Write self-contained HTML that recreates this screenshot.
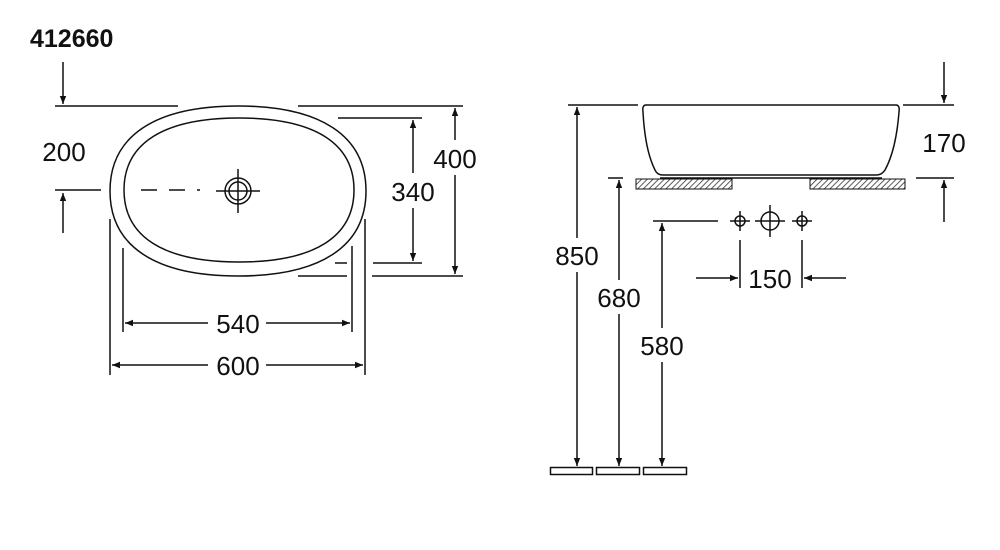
<!DOCTYPE html>
<html><head><meta charset="utf-8"><style>
html,body{margin:0;padding:0;background:#fff;width:1000px;height:550px;overflow:hidden}
svg{display:block}
text{font-family:"Liberation Sans",Arial,sans-serif;fill:#111}
</style></head><body>
<svg width="1000" height="550" viewBox="0 0 1000 550" xmlns="http://www.w3.org/2000/svg">
<defs>
<marker id="a" viewBox="0 0 10 10" refX="10" refY="5" markerWidth="15" markerHeight="8" markerUnits="userSpaceOnUse" orient="auto"><path d="M0,1 L10,5 L0,9 z" fill="#111"/></marker>
<pattern id="h" width="4" height="4" patternUnits="userSpaceOnUse" patternTransform="rotate(45)"><rect width="4" height="4" fill="#fff"/><line x1="0" y1="0" x2="0" y2="4" stroke="#333" stroke-width="1.6"/></pattern>
</defs>
<text x="30" y="47" font-size="25" font-weight="bold">412660</text>
<g stroke="#111" stroke-width="1.5" fill="none">
<line x1="55" y1="106" x2="178" y2="106"/><line x1="298" y1="106" x2="463" y2="106"/>
<path d="M110,191 C110,136 155,106 238,106 C321,106 366,136 366,191 C366,246 321,276 238,276 C155,276 110,246 110,191Z"/>
<path d="M124,190 C124,143 164,118 239,118 C314,118 354,143 354,190 C354,237 314,262 239,262 C164,262 124,237 124,190Z"/>
<circle cx="238" cy="191" r="13"/><circle cx="238" cy="191" r="9"/>
<line x1="216" y1="191" x2="260" y2="191"/><line x1="238" y1="169" x2="238" y2="213"/>
<line x1="55" y1="190" x2="101" y2="190"/>
<line x1="141" y1="190" x2="200" y2="190" stroke-dasharray="16,12"/>
<line x1="63" y1="62" x2="63" y2="104" marker-end="url(#a)"/>
<line x1="63" y1="233" x2="63" y2="193" marker-end="url(#a)"/>
<line x1="338" y1="118" x2="422" y2="118"/>
<line x1="373" y1="263" x2="422" y2="263"/><line x1="335" y1="263" x2="347" y2="263"/>
<line x1="413" y1="173" x2="413" y2="120" marker-end="url(#a)"/>
<line x1="413" y1="208" x2="413" y2="261" marker-end="url(#a)"/>
<line x1="298" y1="276" x2="347" y2="276"/><line x1="372" y1="276" x2="463" y2="276"/>
<line x1="455" y1="140" x2="455" y2="108" marker-end="url(#a)"/>
<line x1="455" y1="175" x2="455" y2="274" marker-end="url(#a)"/>
<line x1="123" y1="248" x2="123" y2="332"/><line x1="352" y1="246" x2="352" y2="332"/>
<line x1="208" y1="323" x2="125" y2="323" marker-end="url(#a)"/>
<line x1="266" y1="323" x2="350" y2="323" marker-end="url(#a)"/>
<line x1="110" y1="219" x2="110" y2="375"/><line x1="365" y1="219" x2="365" y2="375"/>
<line x1="208" y1="365" x2="112" y2="365" marker-end="url(#a)"/>
<line x1="266" y1="365" x2="363" y2="365" marker-end="url(#a)"/>
<line x1="568" y1="105" x2="638" y2="105"/><line x1="903" y1="105" x2="954" y2="105"/>
<path d="M646,105 L896,105 Q900,105 899,112 Q896,150 885,170 Q882,175 876,175 L663,175 Q657,175 655,170 Q645,150 643,112 Q642,105 646,105 Z"/>
<line x1="660" y1="178" x2="882" y2="178"/>
<line x1="608" y1="178" x2="623" y2="178"/><line x1="916" y1="178" x2="954" y2="178"/>
<line x1="944" y1="62" x2="944" y2="103" marker-end="url(#a)"/>
<line x1="944" y1="222" x2="944" y2="180" marker-end="url(#a)"/>
<line x1="577" y1="238" x2="577" y2="107" marker-end="url(#a)"/>
<line x1="577" y1="272" x2="577" y2="466" marker-end="url(#a)"/>
<line x1="619" y1="280" x2="619" y2="180" marker-end="url(#a)"/>
<line x1="619" y1="314" x2="619" y2="466" marker-end="url(#a)"/>
<line x1="653" y1="221" x2="718" y2="221"/>
<line x1="662" y1="328" x2="662" y2="223" marker-end="url(#a)"/>
<line x1="662" y1="362" x2="662" y2="466" marker-end="url(#a)"/>
<circle cx="740" cy="221" r="5"/><line x1="730" y1="221" x2="750" y2="221"/><line x1="740" y1="211" x2="740" y2="231"/>
<circle cx="770" cy="221" r="9"/><line x1="755" y1="221" x2="785" y2="221"/><line x1="770" y1="205" x2="770" y2="237"/>
<circle cx="802" cy="221" r="5"/><line x1="792" y1="221" x2="812" y2="221"/><line x1="802" y1="211" x2="802" y2="231"/>
<line x1="740" y1="240" x2="740" y2="288"/><line x1="802" y1="240" x2="802" y2="288"/>
<line x1="696" y1="278" x2="738" y2="278" marker-end="url(#a)"/>
<line x1="846" y1="278" x2="804" y2="278" marker-end="url(#a)"/>
<rect x="550.5" y="467.5" width="42" height="7"/>
<rect x="596.5" y="467.5" width="43" height="7"/>
<rect x="643.5" y="467.5" width="43" height="7"/>
</g>
<rect x="636" y="179" width="96" height="10" fill="url(#h)" stroke="#111" stroke-width="1"/>
<rect x="810" y="179" width="95" height="10" fill="url(#h)" stroke="#111" stroke-width="1"/>
<g font-size="26" text-anchor="middle">
<text x="64" y="161">200</text>
<text x="413" y="201">340</text>
<text x="455" y="168">400</text>
<text x="238" y="333">540</text>
<text x="238" y="375">600</text>
<text x="944" y="152">170</text>
<text x="577" y="265">850</text>
<text x="619" y="307">680</text>
<text x="662" y="355">580</text>
<text x="770" y="288">150</text>
</g>
</svg>
</body></html>
